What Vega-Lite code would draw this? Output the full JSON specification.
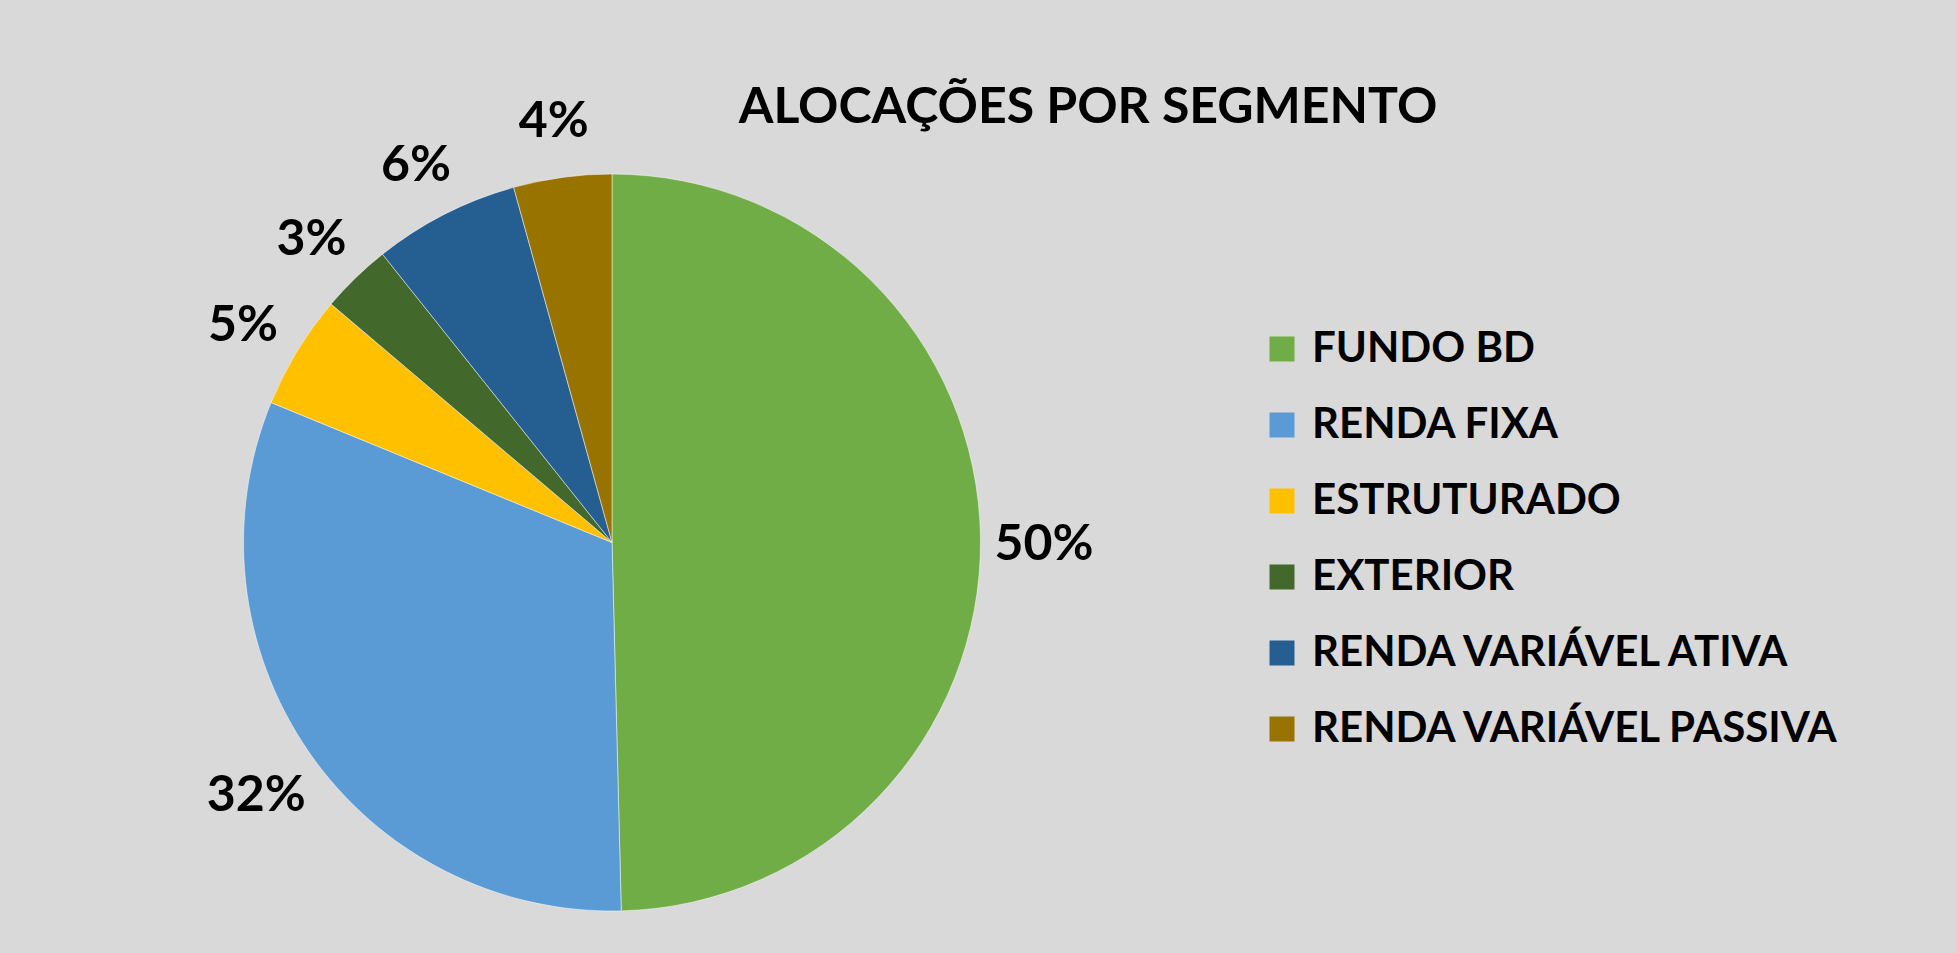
{
  "$schema": "https://vega.github.io/schema/vega-lite/v6.json",
  "width": 1208,
  "height": 737,
  "autosize": {"type": "none"},
  "padding": {"left": 8, "top": 174, "right": 741, "bottom": 42},
  "background": "#d9d9d9",
  "title": {
    "text": "ALOCAÇÕES POR SEGMENTO",
    "font": "Lato",
    "fontSize": 50,
    "fontWeight": "bold",
    "color": "#000000",
    "anchor": "middle",
    "frame": "group",
    "baseline": "alphabetic",
    "dx": 476,
    "dy": 76,
    "offset": 0
  },
  "data": {
    "values": [
      {"segmento": "FUNDO BD", "valor": 0.496, "ordem": 1},
      {"segmento": "RENDA FIXA", "valor": 0.316, "ordem": 2},
      {"segmento": "ESTRUTURADO", "valor": 0.050, "ordem": 3},
      {"segmento": "EXTERIOR", "valor": 0.031, "ordem": 4},
      {"segmento": "RENDA VARIÁVEL ATIVA", "valor": 0.064, "ordem": 5},
      {"segmento": "RENDA VARIÁVEL PASSIVA", "valor": 0.043, "ordem": 6}
    ]
  },
  "encoding": {
    "theta": {"field": "valor", "type": "quantitative", "stack": true},
    "order": {"field": "ordem", "type": "quantitative"},
    "color": {
      "field": "segmento",
      "type": "nominal",
      "scale": {
        "domain": ["FUNDO BD", "RENDA FIXA", "ESTRUTURADO", "EXTERIOR", "RENDA VARIÁVEL ATIVA", "RENDA VARIÁVEL PASSIVA"],
        "range": ["#70ad47", "#5b9bd5", "#ffc000", "#43682b", "#255e91", "#997300"]
      },
      "legend": {
        "title": null,
        "orient": "none",
        "legendX": 1253,
        "legendY": 154,
        "padding": 0,
        "symbolType": "square",
        "symbolSize": 625,
        "symbolStrokeWidth": 0,
        "labelFont": "Lato",
        "labelFontSize": 42,
        "labelFontWeight": "bold",
        "labelColor": "#000000",
        "labelOffset": 9,
        "labelLimit": 1000,
        "rowPadding": 34
      }
    }
  },
  "layer": [
    {"mark": {"type": "arc", "stroke": "#ffffff", "strokeWidth": 0.8, "strokeOpacity": 0.6}},
    {
      "mark": {"type": "text", "radius": 432, "dy": 8, "font": "Lato", "fontSize": 50, "fontWeight": "bold", "baseline": "middle", "align": "center"},
      "encoding": {
        "text": {"field": "valor", "type": "quantitative", "format": ".0%"},
        "color": {"value": "#000000"}
      }
    }
  ],
  "view": {"stroke": null}
}
